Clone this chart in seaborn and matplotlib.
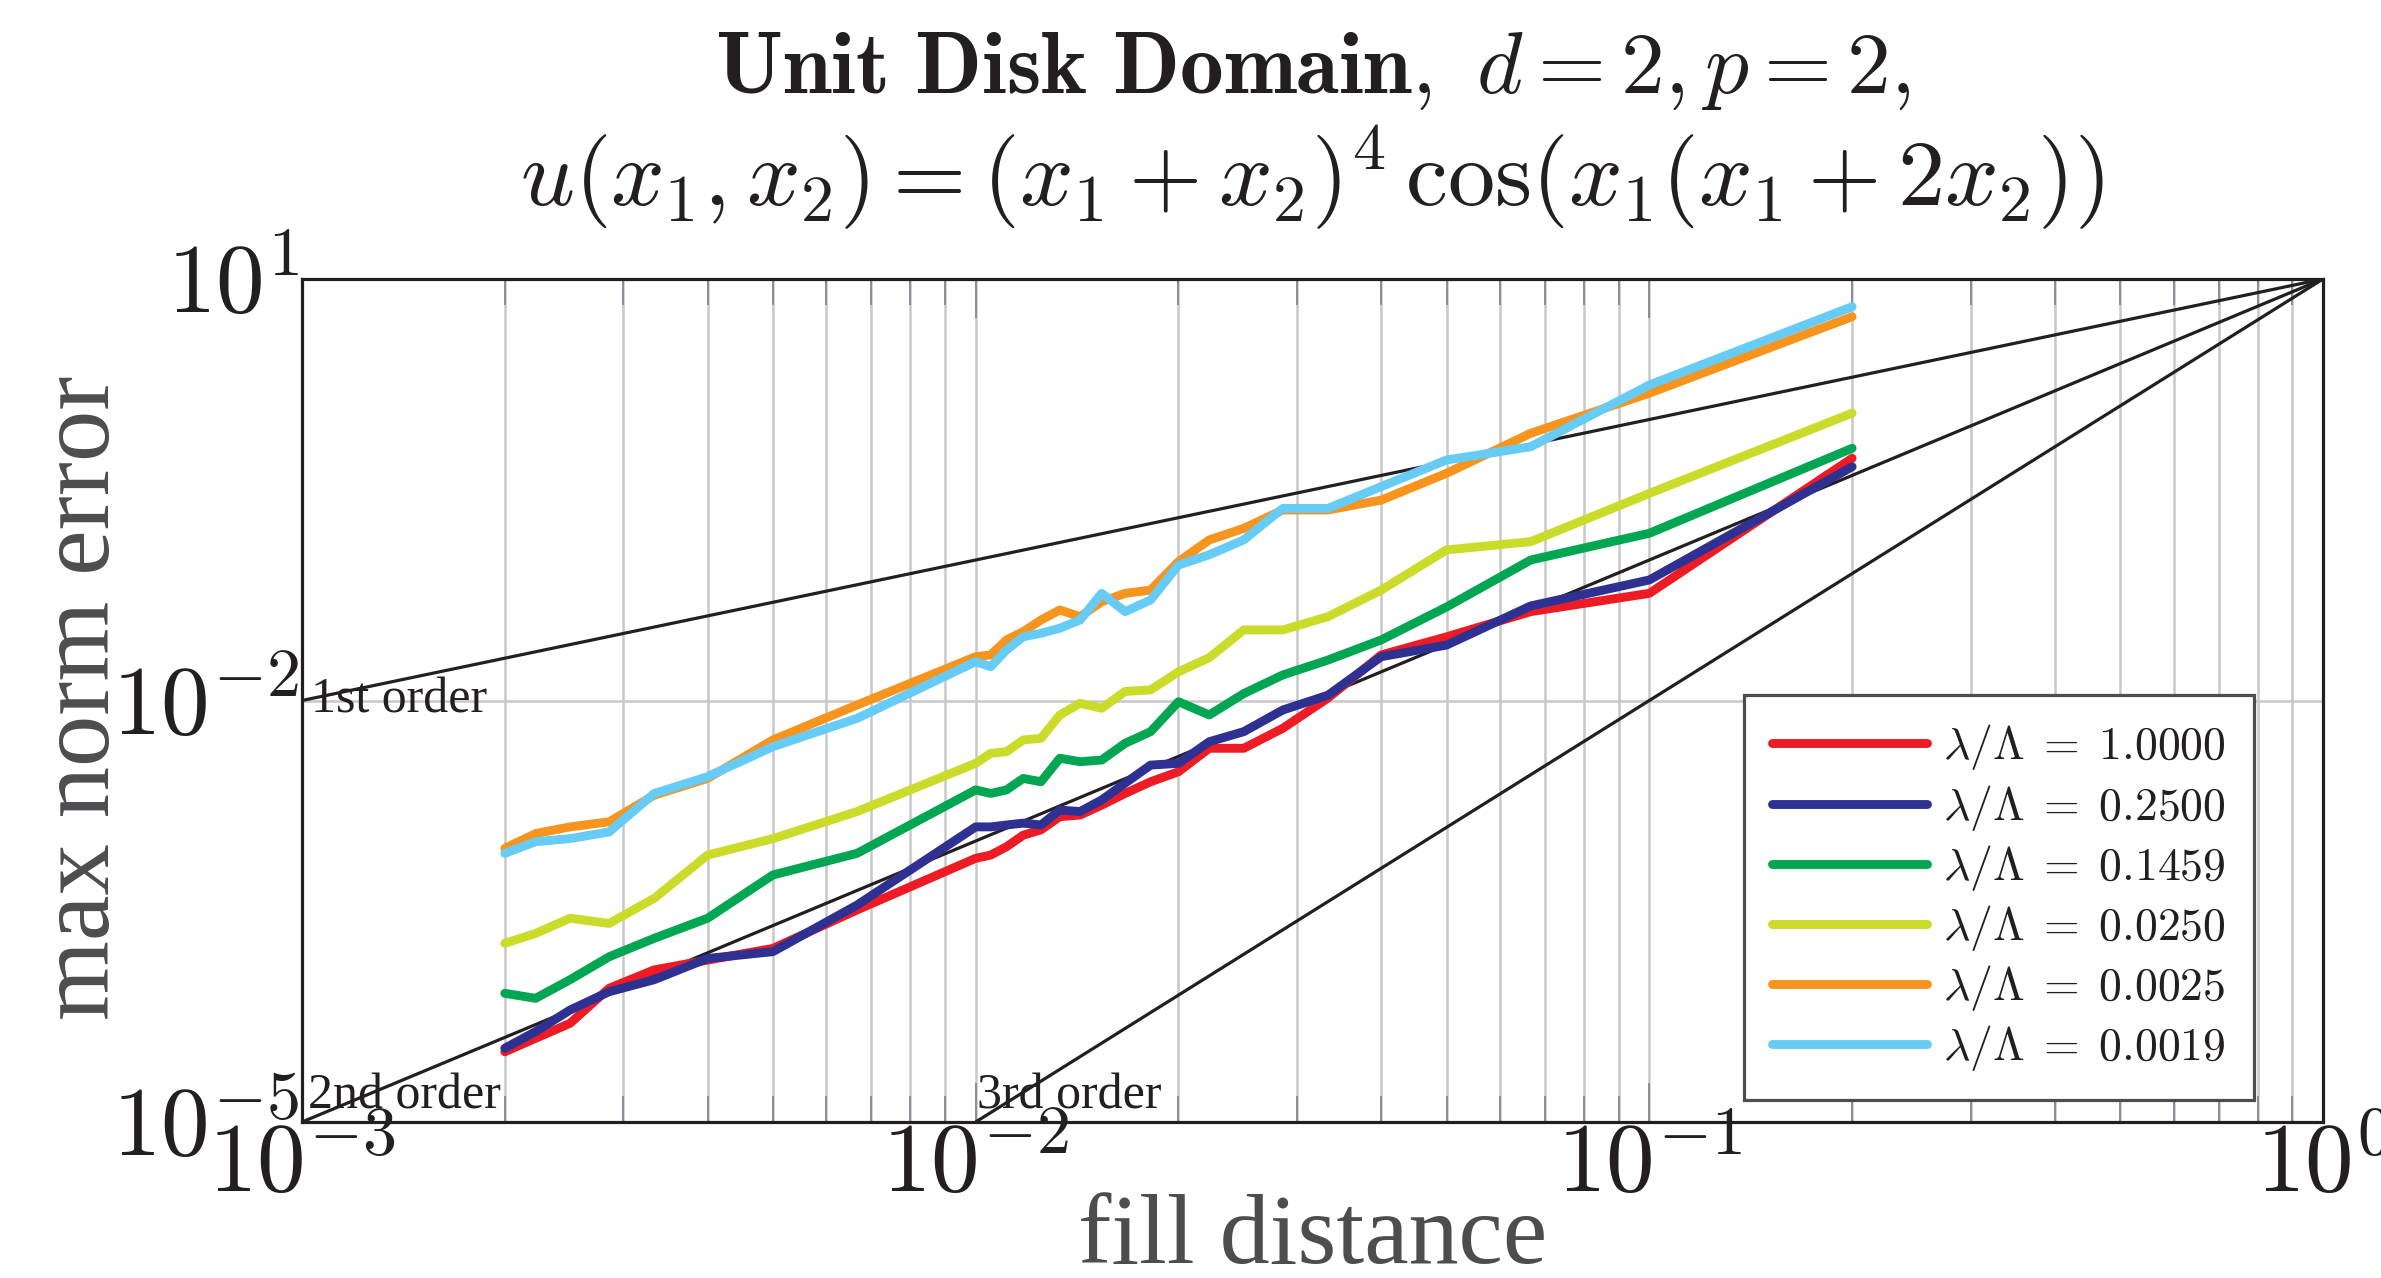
import numpy as np
import pandas as pd
import matplotlib
matplotlib.use("Agg")
import matplotlib.pyplot as plt
import seaborn as sns
from matplotlib.ticker import LogLocator, NullLocator, FixedLocator, FuncFormatter
from matplotlib.lines import Line2D

# ---------------- data ----------------
fill_distance = [0.002, 0.002222, 0.0025, 0.002857, 0.003333, 0.004, 0.005, 0.006667,
                 0.01, 0.010526, 0.011111, 0.011765, 0.0125, 0.013333, 0.014286, 0.015385,
                 0.016667, 0.018182, 0.02, 0.022222, 0.025, 0.028571, 0.033333, 0.04,
                 0.05, 0.066667, 0.1, 0.2]

err_1_0000 = [3.16e-5, 3.94e-5, 5.04e-5, 8.95e-5, 1.21e-4, 1.42e-4, 1.72e-4, 3.23e-4,
              7.53e-4, 7.94e-4, 9.10e-4, 1.10e-3, 1.20e-3, 1.49e-3, 1.53e-3, 1.80e-3,
              2.18e-3, 2.64e-3, 3.11e-3, 4.57e-3, 4.57e-3, 6.34e-3, 1.04e-2, 2.11e-2,
              2.84e-2, 4.29e-2, 5.79e-2, 0.530]
err_0_2500 = [3.35e-5, 4.40e-5, 6.27e-5, 8.46e-5, 1.03e-4, 1.46e-4, 1.63e-4, 3.50e-4,
              1.26e-3, 1.26e-3, 1.30e-3, 1.34e-3, 1.30e-3, 1.66e-3, 1.62e-3, 1.96e-3,
              2.58e-3, 3.47e-3, 3.57e-3, 5.09e-3, 6.00e-3, 8.56e-3, 1.09e-2, 2.05e-2,
              2.48e-2, 4.71e-2, 7.21e-2, 0.461]
err_0_1459 = [8.24e-5, 7.59e-5, 1.03e-4, 1.50e-4, 2.03e-4, 2.82e-4, 5.73e-4, 8.17e-4,
              2.31e-3, 2.18e-3, 2.31e-3, 2.79e-3, 2.64e-3, 3.88e-3, 3.67e-3, 3.77e-3,
              4.96e-3, 6.00e-3, 9.80e-3, 7.89e-3, 1.12e-2, 1.52e-2, 1.94e-2, 2.70e-2,
              4.63e-2, 0.100, 0.155, 0.624]
err_0_0250 = [1.87e-4, 2.20e-4, 2.82e-4, 2.59e-4, 3.91e-4, 7.94e-4, 1.04e-3, 1.62e-3,
              3.57e-3, 4.21e-3, 4.32e-3, 5.24e-3, 5.38e-3, 7.89e-3, 9.55e-3, 8.80e-3,
              1.16e-2, 1.19e-2, 1.60e-2, 2.02e-2, 3.18e-2, 3.18e-2, 3.95e-2, 6.11e-2,
              0.118, 0.135, 0.298, 1.11]
err_0_0025 = [8.87e-4, 1.13e-3, 1.26e-3, 1.37e-3, 2.12e-3, 2.79e-3, 5.24e-3, 9.29e-3,
              2.05e-2, 2.11e-2, 2.70e-2, 3.09e-2, 3.74e-2, 4.41e-2, 3.95e-2, 5.05e-2,
              5.79e-2, 6.11e-2, 9.73e-2, 0.139, 0.168, 0.227, 0.227, 0.267,
              0.414, 0.798, 1.54, 5.39]
err_0_0019 = [8.17e-4, 9.89e-4, 1.04e-3, 1.16e-3, 2.18e-3, 2.87e-3, 4.69e-3, 7.46e-3,
              1.89e-2, 1.74e-2, 2.29e-2, 2.84e-2, 3.01e-2, 3.27e-2, 3.74e-2, 5.79e-2,
              4.29e-2, 5.19e-2, 9.20e-2, 0.109, 0.139, 0.233, 0.233, 0.333,
              0.515, 0.640, 1.76, 6.35]

series_labels = [r"$\lambda/\Lambda\;=\;1.0000$", r"$\lambda/\Lambda\;=\;0.2500$",
                 r"$\lambda/\Lambda\;=\;0.1459$", r"$\lambda/\Lambda\;=\;0.0250$",
                 r"$\lambda/\Lambda\;=\;0.0025$", r"$\lambda/\Lambda\;=\;0.0019$"]
series_values = [err_1_0000, err_0_2500, err_0_1459, err_0_0250, err_0_0025, err_0_0019]
series_colors = ["#ED1C24", "#2E3192", "#00A651", "#CBDB2A", "#F7941D", "#66CCF5"]

# reference convergence lines (endpoints)
order_labels = ["1st order", "2nd order", "3rd order"]
order_x = [[1e-3, 1.0], [1e-3, 1.0], [1e-2, 1.0]]
order_y = [[1e-2, 10.0], [1e-5, 10.0], [1e-5, 10.0]]

x_ticks = [1e-3, 1e-2, 1e-1, 1e0]
y_ticks = [1e-5, 1e-2, 1e1]

# ---------------- style ----------------
sns.set_theme(style="white")
plt.rcParams["font.family"] = ["Liberation Serif", "DejaVu Serif"]
plt.rcParams["mathtext.fontset"] = "cm"

W, H = 2381, 1278
fig = plt.figure(figsize=(W / 100, H / 100), dpi=100)
L, R, T, B = 302, 2323, 279, 1122
ax = fig.add_axes([L / W, 1 - B / H, (R - L) / W, (B - T) / H])

rows = []
for lab, vals in zip(series_labels, series_values):
    for xv, yv in zip(fill_distance, vals):
        rows.append({"h": xv, "err": yv, "series": lab})
df = pd.DataFrame(rows)

ax.set_xscale("log")
ax.set_yscale("log")

for xs, ys in zip(order_x, order_y):
    ax.plot(xs, ys, color="#231F20", lw=2.3, zorder=3, solid_capstyle="butt")

sns.lineplot(data=df, x="h", y="err", hue="series", hue_order=series_labels,
             palette=dict(zip(series_labels, series_colors)), linewidth=6.4,
             ax=ax, legend=False, sort=False, estimator=None, zorder=4)

ax.set_xlim(1e-3, 1.0)
ax.set_ylim(1e-5, 1e1)
ax.xaxis.set_major_locator(FixedLocator(x_ticks))
ax.xaxis.set_minor_locator(LogLocator(base=10, subs=np.arange(2, 10), numticks=20))
ax.yaxis.set_major_locator(FixedLocator(y_ticks))
ax.yaxis.set_minor_locator(NullLocator())
pow_fmt = FuncFormatter(lambda v, pos: r"$10^{%d}$" % int(round(np.log10(v))))
ax.xaxis.set_major_formatter(pow_fmt)
ax.yaxis.set_major_formatter(pow_fmt)

ax.set_axisbelow(True)
ax.grid(True, which="both", axis="x", color="#C8C8C8", lw=1.8)
ax.grid(True, which="major", axis="y", color="#C8C8C8", lw=1.8)

ax.tick_params(axis="x", which="major", direction="in", top=True, bottom=True,
               length=28, width=1.4, color="#8C8C96", labelsize=70, pad=1,
               labelcolor="#231F20")
ax.tick_params(axis="x", which="minor", direction="in", top=True, bottom=True,
               length=18.5, width=1.4, color="#8C8C96")
ax.tick_params(axis="y", which="major", direction="in", left=True, right=True,
               length=0, labelsize=70, pad=2, labelcolor="#231F20")

for sp in ax.spines.values():
    sp.set_color("#231F20")
    sp.set_linewidth(2.3)
    sp.set_visible(True)

ax.set_xlabel("")
ax.set_ylabel("")

# order labels
ax.text(1.03e-3, 1e-2, order_labels[0], ha="left", va="center", fontsize=36, color="#231F20", zorder=5)
ax.text(1.02e-3, 1.04e-5, order_labels[1], ha="left", va="bottom", fontsize=36, color="#231F20", zorder=5)
ax.text(1.003e-2, 1.04e-5, order_labels[2], ha="left", va="bottom", fontsize=36, color="#231F20", zorder=5)

# legend
handles = [Line2D([0], [0], color=c, lw=6.4) for c in series_colors]
leg = fig.legend(handles, series_labels, loc="upper left",
                 bbox_to_anchor=(1744 / W, 1 - 695 / H), fontsize=33,
                 frameon=True, fancybox=False, framealpha=1, edgecolor="#4D4D4D",
                 handlelength=3.4, handletextpad=0.35, labelspacing=0.22,
                 borderpad=0.6, borderaxespad=0)
leg.get_frame().set_linewidth(2.3)
for t in leg.get_texts():
    t.set_color("#231F20")

# titles and axis labels
cx = (L + R) / 2 / W
fig.text(cx, 1 - 93 / H, r"$\mathbf{Unit\ Disk\ Domain,}\ d=2, p=2,$",
         ha="center", va="baseline", fontsize=63, color="#231F20")
fig.text(cx, 1 - 206 / H, r"$u(x_1,x_2)=(x_1+x_2)^4\,\cos(x_1(x_1+2x_2))$",
         ha="center", va="baseline", fontsize=68, color="#231F20")
fig.text(1313 / W, 1 - 1263 / H, "fill distance", ha="center", va="baseline",
         fontsize=72, color="#4D4D4F")
fig.text(84 / W, 1 - 698 / H, "max norm error", ha="center", va="center",
         rotation=90, fontsize=74, color="#4D4D4F")

fig.savefig("out.png", dpi=100)
